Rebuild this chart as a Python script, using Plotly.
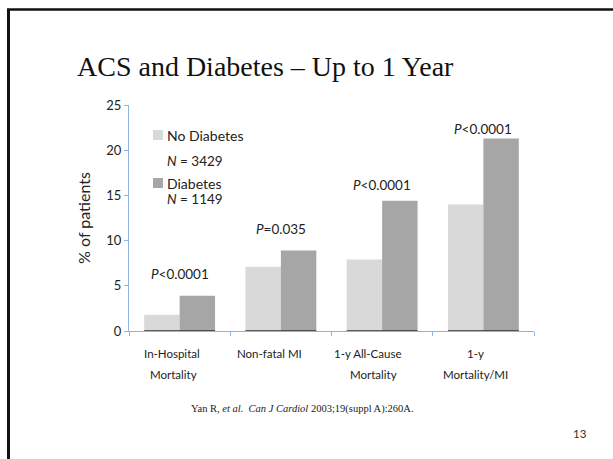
import plotly.graph_objects as go

# ---- data ----
categories = ["In-Hospital Mortality", "Non-fatal MI", "1-y All-Cause Mortality", "1-y Mortality/MI"]
label_lines = [["In-Hospital", "Mortality"], ["Non-fatal MI"], ["1-y All-Cause", "Mortality"], ["1-y", "Mortality/MI"]]
no_diabetes = [1.8, 7.1, 7.9, 14.0]
diabetes = [3.9, 8.9, 14.4, 21.3]
p_values = ["<0.0001", "=0.035", "<0.0001", "<0.0001"]
p_label_y = [6.3, 11.3, 16.2, 22.4]
y_ticks = [0, 5, 10, 15, 20, 25]
series_names = ["No Diabetes", "Diabetes"]
series_n = ["3429", "1149"]

# ---- styling ----
LIGHT = "#d9d9d9"
DARK = "#a6a6a6"
AXIS = "#8db3e2"
SANS = "Lato, 'Liberation Sans', sans-serif"
SERIF = "'Liberation Serif', 'Times New Roman', serif"

W, H = 613, 459
L, R, T, B = 129, 79, 105, 128
PW, PH = W - L - R, H - T - B


def xp(px):
    return (px - L) / PW


def yp(py):
    return (H - B - py) / PH


def text_at(x, y, text, font, xanchor="center", xref="paper", yref="paper", xshift=0):
    return dict(x=x, y=y, xref=xref, yref=yref, xanchor=xanchor, yanchor="middle",
                showarrow=False, text=text, font=font, xshift=xshift)


fig = go.Figure()
fig.add_trace(go.Bar(x=categories, y=no_diabetes, name=series_names[0],
                     marker=dict(color=LIGHT, line=dict(width=0))))
fig.add_trace(go.Bar(x=categories, y=diabetes, name=series_names[1],
                     marker=dict(color=DARK, line=dict(width=0))))

shapes = []
annotations = []

# dark baseline under each bar group
for i in range(len(categories)):
    shapes.append(dict(type="line", xref="x", yref="y", x0=i - 0.35, x1=i + 0.35,
                       y0=0, y1=0, line=dict(color="#333333", width=1.5), layer="above"))

# p-value labels above each group
for cat, p, yv in zip(categories, p_values, p_label_y):
    annotations.append(text_at(cat, yv, "<i>P</i>" + p.replace("<", "&lt;"),
                               dict(family=SANS, size=13.5, color="#222222"),
                               xref="x", yref="y"))

# category labels under the axis
label_shift = [[-8, -6], [-11], [-15, -9], [-8, -8]]
for cat, lines, shifts in zip(categories, label_lines, label_shift):
    for j, (line, sh) in enumerate(zip(lines, shifts)):
        annotations.append(text_at(cat, yp(353 + 21 * j), line,
                                   dict(family=SANS, size=11.5, color="#222222"),
                                   xref="x", xshift=sh))

# legend block
for k, (name, n, col, top) in enumerate(zip(series_names, series_n, [LIGHT, DARK], [130, 178])):
    shapes.append(dict(type="rect", xref="paper", yref="paper",
                       x0=xp(153), x1=xp(163), y0=yp(top), y1=yp(top + 10),
                       fillcolor=col, line=dict(width=0)))
    annotations.append(text_at(xp(165), yp(top + 5), name,
                               dict(family=SANS, size=14, color="#222222"), xanchor="left"))
    annotations.append(text_at(xp(165), yp(top + 31 - 10 * k), "<i>N</i> = " + n,
                               dict(family=SANS, size=13.5, color="#222222"), xanchor="left"))

# title, citation and slide number
annotations.append(text_at(xp(265), yp(66), "ACS and Diabetes – Up to 1 Year",
                           dict(family=SERIF, size=28, color="#111111")))
annotations.append(text_at(xp(302), yp(409),
                           "Yan R, <i>et al.</i>  <i>Can J Cardiol</i> 2003;19(suppl A):260A.",
                           dict(family=SERIF, size=10.5, color="#222222")))
annotations.append(text_at(xp(580), yp(433), "13",
                           dict(family=SANS, size=11.5, color="#333333")))

# slide frame (left and top edges)
shapes.append(dict(type="line", xref="paper", yref="paper", x0=xp(8.5), x1=xp(8.5),
                   y0=yp(9), y1=yp(H + 5), line=dict(color="#111111", width=3)))
shapes.append(dict(type="line", xref="paper", yref="paper", x0=xp(7), x1=xp(W + 5),
                   y0=yp(9.5), y1=yp(9.5), line=dict(color="#111111", width=2.5)))

fig.update_layout(
    width=W, height=H,
    margin=dict(l=L, r=R, t=T, b=B, pad=0),
    paper_bgcolor="white", plot_bgcolor="white",
    barmode="group", bargap=0.3, bargroupgap=0,
    showlegend=False,
    shapes=shapes, annotations=annotations,
    xaxis=dict(showline=True, linecolor=AXIS, linewidth=1, ticks="outside",
               tickson="boundaries", ticklen=4, tickcolor=AXIS,
               showticklabels=False, showgrid=False, zeroline=False),
    yaxis=dict(range=[0, 25], tickvals=y_ticks, showline=True, linecolor=AXIS,
               linewidth=1, ticks="outside", ticklen=4, tickcolor=AXIS,
               showgrid=False, zeroline=False,
               tickfont=dict(family=SANS, size=13, color="#222222"),
               title=dict(text="% of patients", standoff=11,
                          font=dict(family=SANS, size=16, color="#222222"))),
)

fig.write_html("out.html")
